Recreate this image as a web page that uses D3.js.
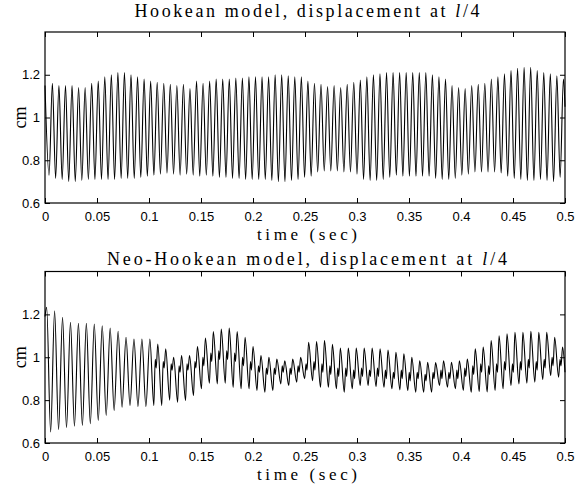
<!DOCTYPE html>
<html>
<head>
<meta charset="utf-8">
<script src="https://cdn.jsdelivr.net/npm/d3@7"></script>
<style>
  body { margin: 0; background: #fff; }
  svg { display: block; }
</style>
</head>
<body>
<div id="chart"></div>
<script>
// ---- data ----
const xTicks = [0, 0.05, 0.1, 0.15, 0.2, 0.25, 0.3, 0.35, 0.4, 0.45, 0.5];
const yTicks = [0.6, 0.8, 1, 1.2];

// Hookean: one peak and one trough per cycle (period ~0.0063 s)
const hookPeriod = 0.0063, hookFirstTrough = 0.0039, hookFirstPeak = 0.0071;
const hookStart = 1.15, hookEnd = 1.05;
const hookPeaks = [
  1.16, 1.15, 1.15, 1.15, 1.14, 1.14, 1.16, 1.17, 1.19, 1.20,
  1.21, 1.21, 1.20, 1.19, 1.18, 1.17, 1.165, 1.16, 1.155, 1.15,
  1.155, 1.135, 1.17, 1.16, 1.17, 1.18, 1.18, 1.18, 1.185, 1.185,
  1.19, 1.19, 1.19, 1.19, 1.20, 1.20, 1.195, 1.19, 1.19, 1.17,
  1.16, 1.155, 1.145, 1.15, 1.14, 1.155, 1.165, 1.175, 1.19, 1.20,
  1.205, 1.21, 1.21, 1.21, 1.21, 1.21, 1.21, 1.21, 1.20, 1.19,
  1.18, 1.15, 1.14, 1.135, 1.15, 1.155, 1.16, 1.18, 1.19, 1.205,
  1.22, 1.23, 1.235, 1.235, 1.22, 1.21, 1.205, 1.195, 1.18
];
const hookTroughs = [
  0.73, 0.715, 0.71, 0.70, 0.70, 0.705, 0.71, 0.71, 0.71, 0.71,
  0.71, 0.715, 0.715, 0.715, 0.72, 0.725, 0.73, 0.735, 0.74, 0.735,
  0.73, 0.735, 0.73, 0.725, 0.73, 0.725, 0.72, 0.72, 0.715, 0.715,
  0.71, 0.71, 0.71, 0.71, 0.705, 0.70, 0.70, 0.705, 0.71, 0.72,
  0.725, 0.745, 0.75, 0.75, 0.75, 0.745, 0.745, 0.735, 0.71, 0.705,
  0.705, 0.71, 0.72, 0.73, 0.725, 0.725, 0.725, 0.725, 0.725, 0.715,
  0.71, 0.71, 0.715, 0.73, 0.735, 0.745, 0.745, 0.745, 0.745, 0.74,
  0.725, 0.715, 0.71, 0.705, 0.705, 0.71, 0.705, 0.70, 0.72
];

// Neo-Hookean: main cycle (period ~0.0076 s) plus a small bump on the rising edge
const neoPeriod = 0.007632, neoFirstPeak = 0.0016;
const neoStart = 1.19, neoEnd = 0.93;
const neoPeaks = [
  1.233, 1.217, 1.186, 1.163, 1.158, 1.158, 1.155, 1.147, 1.136, 1.121,
  1.093, 1.085, 1.085, 1.085, 1.062, 1.039, 1.0, 1.008, 1.008, 1.05,
  1.09, 1.12, 1.132, 1.136, 1.12, 1.093, 1.05, 1.008, 1.0, 0.992,
  0.984, 0.992, 1.0, 1.07, 1.073, 1.078, 1.06, 1.043, 1.043, 1.043,
  1.043, 1.043, 1.039, 1.034, 1.023, 1.016, 1.0, 0.984, 0.977, 0.975,
  0.984, 0.977, 0.984, 0.992, 1.039, 1.047, 1.078, 1.10, 1.109, 1.116,
  1.116, 1.121, 1.116, 1.116, 1.093, 1.047
];
const neoTroughs = [
  0.651, 0.662, 0.671, 0.678, 0.682, 0.69, 0.705, 0.729, 0.752, 0.767,
  0.775, 0.77, 0.77, 0.775, 0.775, 0.80, 0.79, 0.798, 0.822, 0.853,
  0.879, 0.876, 0.879, 0.86, 0.853, 0.853, 0.845, 0.837, 0.845, 0.876,
  0.868, 0.884, 0.90, 0.891, 0.86, 0.86, 0.853, 0.837, 0.853, 0.868,
  0.868, 0.864, 0.86, 0.853, 0.848, 0.845, 0.837, 0.837, 0.837, 0.868,
  0.86, 0.853, 0.845, 0.837, 0.84, 0.838, 0.845, 0.853, 0.868, 0.876,
  0.879, 0.884, 0.896, 0.915, 0.907
];
const neoBumpHi = [
  null, null, null, null, null, null, null, null, null, null,
  null, null, null, 0.99, 0.98, 0.97, 0.96, 0.97, 0.98, 1.0,
  1.02, 1.03, 1.03, 1.02, 1.0, 0.98, 0.96, 0.95, 0.95, 0.96,
  0.95, 0.96, 0.97, 0.98, 0.97, 0.96, 0.95, 0.95, 0.94, 0.95,
  0.94, 0.95, 0.94, 0.93, 0.94, 0.93, 0.93, 0.92, 0.93, 0.94,
  0.93, 0.94, 0.95, 0.96, 0.97, 0.96, 0.97, 0.98, 0.97, 0.98,
  0.99, 0.98, 0.99, 1.0, 0.99
];
const neoBumpLo = [
  null, null, null, null, null, null, null, null, null, null,
  null, null, null, 0.95, 0.95, 0.94, 0.93, 0.94, 0.95, 0.96,
  0.98, 0.99, 0.99, 0.98, 0.96, 0.94, 0.93, 0.92, 0.92, 0.93,
  0.92, 0.93, 0.94, 0.94, 0.93, 0.92, 0.91, 0.91, 0.90, 0.91,
  0.91, 0.91, 0.90, 0.90, 0.90, 0.89, 0.90, 0.89, 0.90, 0.90,
  0.90, 0.90, 0.91, 0.92, 0.93, 0.92, 0.93, 0.94, 0.93, 0.94,
  0.95, 0.94, 0.95, 0.96, 0.96
];

// ---- build series ----
const hookSeries = [{ t: 0, v: hookStart }];
hookPeaks.forEach((p, k) => {
  hookSeries.push({ t: hookFirstTrough + k * hookPeriod, v: hookTroughs[k] });
  hookSeries.push({ t: hookFirstPeak + k * hookPeriod, v: p });
});
hookSeries.push({ t: 0.5, v: hookEnd });

const neoSeries = [{ t: 0, v: neoStart }];
neoPeaks.forEach((p, k) => {
  const t0 = neoFirstPeak + k * neoPeriod;
  neoSeries.push({ t: t0, v: p });
  if (k < neoTroughs.length) {
    neoSeries.push({ t: t0 + 0.5 * neoPeriod, v: neoTroughs[k] });
    if (neoBumpHi[k] != null) {
      neoSeries.push({ t: t0 + 0.68 * neoPeriod, v: neoBumpHi[k] });
      neoSeries.push({ t: t0 + 0.8 * neoPeriod, v: neoBumpLo[k] });
    }
  }
});
neoSeries.push({ t: 0.5, v: neoEnd });

// ---- layout ----
const width = 575, height = 485;
const left = 45, right = 565;
const mid = 307;

const svg = d3.select('#chart').append('svg')
  .attr('width', width)
  .attr('height', height);

const x = d3.scaleLinear().domain([0, 0.5]).range([left, right]);

const serif = '"Liberation Serif", "DejaVu Serif", serif';
const sans = '"Liberation Sans", Arial, sans-serif';

function panel(top, bottom, series, title, titleY, titleLen) {
  const y = d3.scaleLinear().domain([0.6, 1.4]).range([bottom, top]);
  const g = svg.append('g');

  g.append('path')
    .datum(series)
    .attr('fill', 'none')
    .attr('stroke', '#000')
    .attr('stroke-width', 1.1)
    .attr('d', d3.line().x(d => x(d.t)).y(d => y(d.v)).curve(d3.curveMonotoneX));

  // axes with inward ticks
  g.append('g')
    .attr('transform', `translate(0,${bottom})`)
    .call(d3.axisBottom(x).tickValues(xTicks).tickFormat(d3.format('')).tickSizeInner(-5).tickSizeOuter(0).tickPadding(9));
  g.append('g')
    .attr('transform', `translate(0,${top})`)
    .call(d3.axisTop(x).tickValues(xTicks).tickFormat('').tickSizeInner(-5).tickSizeOuter(0));
  g.append('g')
    .attr('transform', `translate(${left},0)`)
    .call(d3.axisLeft(y).tickValues(yTicks).tickFormat(d3.format('')).tickSizeInner(-5).tickSizeOuter(0).tickPadding(5));
  g.append('g')
    .attr('transform', `translate(${right},0)`)
    .call(d3.axisRight(y).tickValues(yTicks).tickFormat('').tickSizeInner(-5).tickSizeOuter(0));

  g.selectAll('.domain').remove();
  g.selectAll('.tick line').attr('stroke', '#000');
  g.selectAll('.tick text')
    .attr('font-family', sans)
    .attr('font-size', 13)
    .attr('fill', '#000');

  g.append('rect')
    .attr('x', left).attr('y', top)
    .attr('width', right - left).attr('height', bottom - top)
    .attr('fill', 'none')
    .attr('stroke', '#000')
    .attr('stroke-width', 1.2);

  // title
  const tt = g.append('text')
    .attr('x', mid)
    .attr('y', titleY)
    .attr('text-anchor', 'middle')
    .attr('font-family', serif)
    .attr('font-size', 18)
    .attr('textLength', titleLen)
    .attr('lengthAdjust', 'spacing');
  tt.append('tspan').text(title + ' ');
  tt.append('tspan').attr('font-style', 'italic').text('l');
  tt.append('tspan').text('/4');

  // x label
  g.append('text')
    .attr('x', mid)
    .attr('y', bottom + 37)
    .attr('text-anchor', 'middle')
    .attr('font-family', serif)
    .attr('font-size', 17)
    .attr('textLength', 100)
    .attr('lengthAdjust', 'spacing')
    .text('time (sec)');

  // y label
  g.append('text')
    .attr('transform', `translate(26,${y(1)}) rotate(-90)`)
    .attr('text-anchor', 'middle')
    .attr('font-family', serif)
    .attr('font-size', 18)
    .attr('textLength', 22)
    .attr('lengthAdjust', 'spacing')
    .text('cm');
}

panel(32, 203, hookSeries, 'Hookean model, displacement at', 17, 345);
panel(271.5, 443, neoSeries, 'Neo-Hookean model, displacement at', 265, 400);
</script>
</body>
</html>
